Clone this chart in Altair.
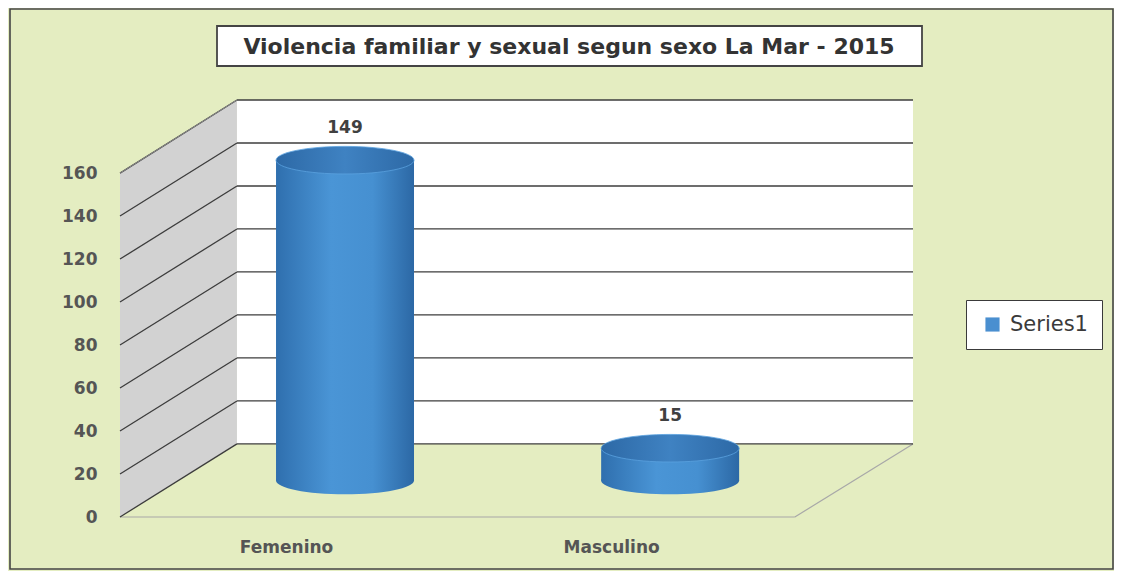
import altair as alt
import pandas as pd

# ---- data ----
categories = ["Femenino", "Masculino"]
values = [149, 15]
series_name = ["Series1"]
tick_values = [0, 20, 40, 60, 80, 100, 120, 140, 160]
title_text = "Violencia familiar y sexual segun sexo La Mar - 2015"

# ---- pseudo-3D geometry (in scale units) ----
X_MAX = 100.0
Y_MAX = 194.0
DEPTH_X = 14.75    # horizontal depth of the box
DEPTH_Y = 34.0     # vertical depth of the box
FLOOR_FRONT_RIGHT = 85.1
cat_front = [21.0, 62.0]   # category positions on the front edge
CYL_HALF = 8.7             # half width of the cylinder in x units

W, H = 793, 417
PAD_L, PAD_T, PAD_R, PAD_B = 112, 92, 201, 54

BG = "#e4edc1"
GRID = "#3c3c3c"
FONT_B = "DejaVu Sans"
LABEL_C = "#555555"

xs = alt.Scale(domain=[0, X_MAX], nice=False, zero=False)
ys = alt.Scale(domain=[0, Y_MAX], nice=False, zero=False)
Y_AXIS = alt.Axis(values=tick_values, domain=False, ticks=False, grid=False,
                  labelPadding=23, labelFont=FONT_B, labelFontSize=17,
                  labelFontWeight="bold", labelColor=LABEL_C, title=None)


def Y(field):
    return alt.Y(field, scale=ys, axis=Y_AXIS)


def X(field):
    return alt.X(field, scale=xs, axis=None)


# side wall (parallelogram)
side = pd.DataFrame({
    "x": [0, DEPTH_X],
    "y": [0, DEPTH_Y],
    "y2": [tick_values[-1], tick_values[-1] + DEPTH_Y],
})
side_wall = alt.Chart(side).mark_area(color="#d2d2d2", opacity=1).encode(
    x=X("x:Q"), y=Y("y:Q"), y2="y2:Q",
)

# back wall
back = pd.DataFrame({"x": [DEPTH_X], "x2": [X_MAX], "y": [DEPTH_Y],
                     "y2": [tick_values[-1] + DEPTH_Y]})
back_wall = alt.Chart(back).mark_rect(color="white").encode(
    x=X("x:Q"), x2="x2:Q", y=Y("y:Q"), y2="y2:Q",
)

# floor outline
floor_df = pd.DataFrame({
    "x": [0, FLOOR_FRONT_RIGHT],
    "x2": [FLOOR_FRONT_RIGHT, X_MAX],
    "y": [0, 0],
    "y2": [0, DEPTH_Y],
})
floor = alt.Chart(floor_df).mark_rule(color="#a8a8a8", strokeWidth=1.2).encode(
    x=X("x:Q"), x2="x2:Q", y=Y("y:Q"), y2="y2:Q",
)

# gridlines: slanted on side wall + horizontal on back wall
grid_df = pd.DataFrame({"t": tick_values})
grid_df["yb"] = grid_df["t"] + DEPTH_Y
grid_df["x0"] = 0.0
grid_df["xd"] = DEPTH_X
grid_df["xr"] = X_MAX
slant = alt.Chart(grid_df).mark_rule(color=GRID, strokeWidth=1.3).encode(
    x=X("x0:Q"), x2="xd:Q", y=Y("t:Q"), y2="yb:Q",
)
horiz = alt.Chart(grid_df).mark_rule(color=GRID, strokeWidth=1.3).encode(
    x=X("xd:Q"), x2="xr:Q", y=Y("yb:Q"),
)
wall_edge = alt.Chart(side).mark_line(color="#8a8a8a", strokeWidth=1).encode(
    x=X("x:Q"), y=Y("y2:Q"),
)

# cylinders
bars = pd.DataFrame({"cat": categories, "value": values, "front": cat_front})
bars["cx"] = bars["front"] + DEPTH_X / 2
bars["xl"] = bars["cx"] - CYL_HALF
bars["xr"] = bars["cx"] + CYL_HALF
bars["base"] = DEPTH_Y / 2
bars["top"] = bars["base"] + bars["value"]

body_grad = alt.LinearGradient(
    gradient="linear", x1=0, x2=1, y1=0, y2=0,
    stops=[alt.GradientStop(color="#2f6fae", offset=0),
           alt.GradientStop(color="#4a95d6", offset=0.4),
           alt.GradientStop(color="#4690d1", offset=0.7),
           alt.GradientStop(color="#2c68a5", offset=1)])
top_grad = alt.LinearGradient(
    gradient="linear", x1=0, x2=1, y1=0, y2=0,
    stops=[alt.GradientStop(color="#2d69a6", offset=0),
           alt.GradientStop(color="#3f82c2", offset=0.5),
           alt.GradientStop(color="#2d69a6", offset=1)])

ELLIPSE = "M-1,0 A1,0.2 0 1,0 1,0 A1,0.2 0 1,0 -1,0 Z"
CYL_PX = 2 * CYL_HALF * W / X_MAX
ELL_SIZE = CYL_PX ** 2

bottom_ell = alt.Chart(bars).mark_point(
    shape=ELLIPSE, size=ELL_SIZE, filled=True, fill=body_grad, opacity=1, strokeWidth=0
).encode(x=X("cx:Q"), y=Y("base:Q"))
body = alt.Chart(bars).mark_bar(fill=body_grad, strokeWidth=0).encode(
    x=X("xl:Q"), x2="xr:Q", y=Y("base:Q"), y2="top:Q",
)
top_ell = alt.Chart(bars).mark_point(
    shape=ELLIPSE, size=ELL_SIZE, filled=True, fill=top_grad, opacity=1,
    stroke="#5aa2e0", strokeWidth=0.8
).encode(x=X("cx:Q"), y=Y("top:Q"))
labels = alt.Chart(bars).mark_text(
    font=FONT_B, fontSize=17, fontWeight="bold", color="#404040", dy=-32
).encode(x=X("cx:Q"), y=Y("top:Q"), text=alt.Text("value:Q"))

# category labels on the front edge
cat_df = pd.DataFrame({"cat": categories, "front": cat_front, "zero": [0, 0]})
cat_labels = alt.Chart(cat_df).mark_text(
    font=FONT_B, fontSize=17, fontWeight="bold", color=LABEL_C, dy=31
).encode(x=X("front:Q"), y=Y("zero:Q"), text="cat:N")

# legend (invisible layer carrying the color scale)
leg_df = pd.DataFrame({"s": series_name, "x": [cat_front[0]], "y": [0]})
legend_layer = alt.Chart(leg_df).mark_point(opacity=0, filled=True).encode(
    x=X("x:Q"), y=Y("y:Q"),
    color=alt.Color("s:N", scale=alt.Scale(domain=series_name, range=["#4a8fd0"]),
                    legend=alt.Legend(
                        title=None, orient="none", legendX=846, legendY=200,
                        symbolType="square", symbolSize=200, symbolOpacity=1,
                        symbolStrokeWidth=0, symbolOffset=2,
                        labelFont="DejaVu Sans", labelFontSize=21,
                        labelColor="#3a3a3a", strokeColor="#3a3a3a",
                        fillColor="white", padding=14, labelOffset=7)),
)

# title box and title text
title_box = alt.Chart(pd.DataFrame({"a": [0]})).mark_rect(
    fill="white", stroke="#444444", strokeWidth=1.8
).encode(x=alt.value(97), x2=alt.value(802), y=alt.value(-74), y2=alt.value(-34))
title_txt = alt.Chart(pd.DataFrame({"t": [title_text]})).mark_text(
    font=FONT_B, fontSize=22, fontWeight="bold", color="#333333", baseline="middle"
).encode(x=alt.value(449), y=alt.value(-53), text="t:N")

# outer frame
frame = alt.Chart(pd.DataFrame({"a": [0]})).mark_rect(
    fill="transparent", stroke="#444444", strokeWidth=1.6
).encode(
    x=alt.value(-PAD_L + 2), x2=alt.value(W + PAD_R - 1),
    y=alt.value(-PAD_T + 1), y2=alt.value(H + PAD_B - 2),
)

chart = alt.layer(
    frame, side_wall, back_wall, floor, slant, horiz, wall_edge,
    bottom_ell, body, top_ell, labels, cat_labels, legend_layer,
    title_box, title_txt,
).properties(
    width=W, height=H,
    autosize=alt.AutoSizeParams(type="none"),
    padding={"left": PAD_L, "top": PAD_T, "right": PAD_R, "bottom": PAD_B},
    background=BG,
).configure_view(stroke=None)

chart.save("out.html", embed_options={"renderer": "svg", "actions": False})
